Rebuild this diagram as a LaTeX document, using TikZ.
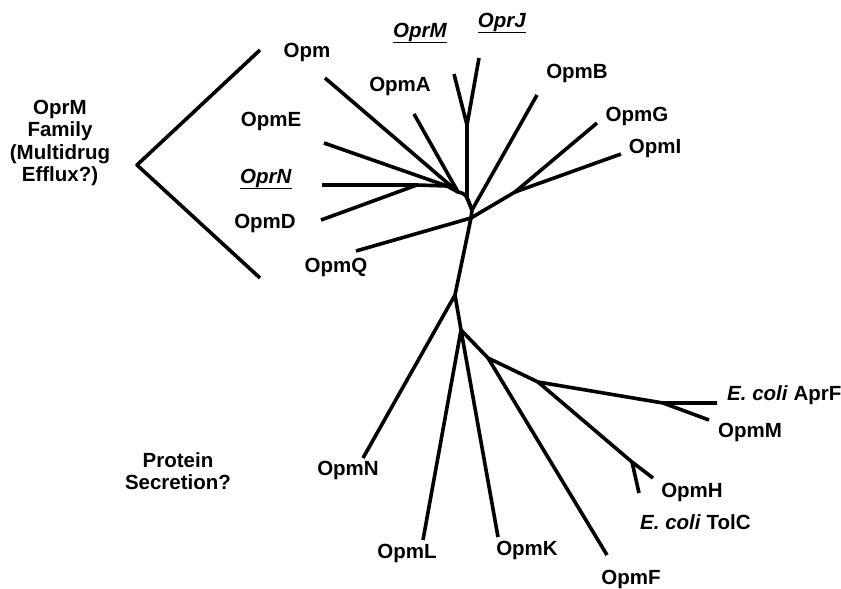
\documentclass[tikz,border=0pt]{standalone}
\usepackage{fontspec}
\setmainfont{Liberation Sans}
\usetikzlibrary{positioning}

\newcommand{\porin}[1]{\underline{\textit{#1}}}

\begin{document}
\begin{tikzpicture}[x=1pt, y=-1pt,
    branch/.style={line width=3.6pt, line join=round},
    lbl/.style={font=\fontsize{20.5}{22.5}\selectfont\bfseries, inner sep=0pt},
    grp/.style={lbl, align=center}]
    \useasboundingbox (0,0) rectangle (841,589);

    % OprM cluster (upper left)
    \coordinate (nN) at (417,185);
    \coordinate (nE) at (447,186);
    \coordinate (nA) at (458,192);
    \coordinate (nB) at (472,210);
    \coordinate (nQ) at (471,218);
    \coordinate (tOprN) at (322,185);
    \coordinate (tOpmD) at (321,220);
    \coordinate (tOpmE) at (324,143);
    \coordinate (tOpm)  at (325,78);
    \coordinate (tOpmA) at (414,114);
    \coordinate (tOpmQ) at (356,251);
    \draw[branch] (tOprN) -- (nN) -- (nE) -- (nA) .. controls (466,194) .. (nB);
    \draw[branch] (tOpmD) -- (nN);
    \draw[branch] (tOpmE) -- (nE);
    \draw[branch] (tOpm) -- (nA);
    \draw[branch] (tOpmA) -- (nA);
    \draw[branch] (nB) -- (nQ) -- (tOpmQ);

    % OprM / OprJ pair
    \coordinate (nJ) at (467,125);
    \coordinate (tOprM) at (454,74);
    \coordinate (tOprJ) at (479,58);
    \draw[branch] (tOprM) -- (nJ) -- (tOprJ);
    \draw[branch] (nJ) -- (467,198) -- (nB);

    % OpmB, OpmG, OpmI
    \coordinate (nG) at (515,192);
    \coordinate (tOpmB) at (537,95);
    \coordinate (tOpmG) at (597,123);
    \coordinate (tOpmI) at (621,154);
    \draw[branch] (nB) -- (tOpmB);
    \draw[branch] (nQ) -- (nG) -- (tOpmG);
    \draw[branch] (nG) -- (tOpmI);

    % trunk and lower cluster
    \coordinate (nT) at (455,295);
    \coordinate (nL) at (461,330);
    \coordinate (nF) at (488,358);
    \coordinate (nM) at (538,382);
    \coordinate (nH) at (632,462);
    \coordinate (nP) at (663,403);
    \coordinate (tOpmN) at (363,458);
    \coordinate (tOpmL) at (423,540);
    \coordinate (tOpmK) at (498,537);
    \coordinate (tOpmF) at (607,555);
    \coordinate (tOpmH) at (653,478);
    \coordinate (tTolC) at (639,493);
    \coordinate (tAprF) at (717,403);
    \coordinate (tOpmM) at (709,420);
    \draw[branch] (nQ) -- (nT) -- (tOpmN);
    \draw[branch] (nT) -- (nL) -- (nF) -- (nM) -- (nP) -- (tAprF);
    \draw[branch] (nP) -- (tOpmM);
    \draw[branch] (nL) -- (tOpmL);
    \draw[branch] (nL) -- (tOpmK);
    \draw[branch] (nF) -- (tOpmF);
    \draw[branch] (nM) -- (nH) -- (tOpmH);
    \draw[branch] (nH) -- (tTolC);

    % leaf labels
    \node[lbl] (lOprM) at (420,33) {\porin{OprM}};
    \node[lbl] (lOprJ) at (502,23) {\porin{OprJ}};
    \node[lbl] (lOpm)  at (307,52) {Opm};
    \node[lbl] (lOpmA) at (400,86) {OpmA};
    \node[lbl] (lOpmE) at (271,121) {OpmE};
    \node[lbl] (lOprN) at (266,179) {\porin{OprN}};
    \node[lbl] (lOpmD) at (265,223) {OpmD};
    \node[lbl] (lOpmQ) at (336,267) {OpmQ};
    \node[lbl] (lOpmB) at (577,73) {OpmB};
    \node[lbl] (lOpmG) at (637,116) {OpmG};
    \node[lbl] (lOpmI) at (655,148) {OpmI};
    \node[lbl, anchor=west] (lAprF) at (727,395) {\textit{E. coli} AprF};
    \node[lbl] (lOpmM) at (750,432) {OpmM};
    \node[lbl] (lOpmH) at (692,492) {OpmH};
    \node[lbl, anchor=west] (lTolC) at (640,522) {\textit{E. coli} TolC};
    \node[lbl] (lOpmF) at (631,579) {OpmF};
    \node[lbl] (lOpmK) at (527,550) {OpmK};
    \node[lbl] (lOpmL) at (407,553) {OpmL};
    \node[lbl] (lOpmN) at (348,470) {OpmN};

    % family bracket and group labels
    \coordinate (bTop) at (260,50);
    \coordinate (bTip) at (137,165);
    \coordinate (bBot) at (260,278);
    \draw[branch] (bTop) -- (bTip) -- (bBot);
    \node[grp] (fam) at (60,143) {OprM\\Family\\(Multidrug\\Efflux?)};
    \node[grp] (sec) at (178,471) {Protein\\Secretion?};
\end{tikzpicture}
\end{document}
